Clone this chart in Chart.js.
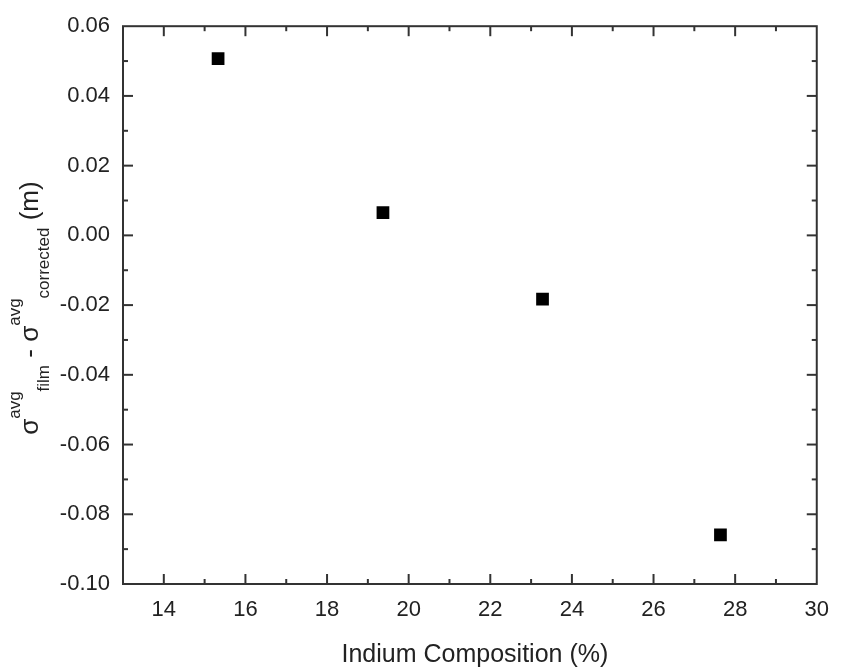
<!DOCTYPE html>
<html>
<head>
<meta charset="utf-8">
<script src="https://cdn.jsdelivr.net/npm/chart.js@4.4.0/dist/chart.umd.min.js"></script>
<style>
  html, body { margin: 0; padding: 0; background: #fff; }
  #wrap { width: 842px; height: 671px; }
</style>
</head>
<body>
<div id="wrap"><canvas id="chart" width="842" height="671"></canvas></div>
<script>
// ── Data ──────────────────────────────────────────────────────────────────────
const indium = [15.33, 19.37, 23.28, 27.64];
const sigmaDiff = [0.0507, 0.0065, -0.0183, -0.0859];
const xTicks = [14, 16, 18, 20, 22, 24, 26, 28, 30];
const yTicks = [-0.10, -0.08, -0.06, -0.04, -0.02, 0.00, 0.02, 0.04, 0.06];

const FONT = "'Liberation Sans', Arial, Helvetica, sans-serif";
const AXIS = "#333";

// ── Axes box, inward ticks and titles ────────────────────────────────────────
const framePlugin = {
  id: "frame",
  afterDraw(chart) {
    const { ctx, chartArea: a, scales: { x, y } } = chart;
    ctx.save();
    ctx.strokeStyle = AXIS;
    ctx.lineWidth = 2;
    ctx.strokeRect(a.left, a.top, a.right - a.left, a.bottom - a.top);

    const tick = (x1, y1, x2, y2) => {
      ctx.beginPath(); ctx.moveTo(x1, y1); ctx.lineTo(x2, y2); ctx.stroke();
    };
    // x ticks (majors + minors halfway)
    const xs = [];
    xTicks.forEach((v, i) => {
      xs.push([v, 10]);
      if (i > 0) xs.push([(v + xTicks[i - 1]) / 2, 5]);
    });
    xs.push([xTicks[0] - 1, 5]);
    xs.forEach(([v, len]) => {
      const px = x.getPixelForValue(v);
      if (px <= a.left + 1 || px >= a.right - 1) return;
      tick(px, a.bottom, px, a.bottom - len);
      tick(px, a.top, px, a.top + len);
    });
    // y ticks
    const ys = [];
    yTicks.forEach((v, i) => {
      ys.push([v, 10]);
      if (i > 0) ys.push([(v + yTicks[i - 1]) / 2, 5]);
    });
    ys.forEach(([v, len]) => {
      const py = y.getPixelForValue(v);
      if (py <= a.top + 1 || py >= a.bottom - 1) return;
      tick(a.left, py, a.left + len, py);
      tick(a.right, py, a.right - len, py);
    });

    // x title
    ctx.fillStyle = "#222";
    ctx.font = "25px " + FONT;
    ctx.textAlign = "center";
    ctx.textBaseline = "alphabetic";
    ctx.fillText("Indium Composition (%)", (a.left + a.right) / 2 + 5, 662);

    // y title with super/subscripts
    const parts = [
      ["σ", 26, 0], ["avg", 17, -18], ["film", 17, 11], [" - ", 26, 0],
      ["σ", 26, 0], ["avg", 17, -18], ["corrected", 17, 11], [" (m)", 26, 0]
    ];
    let total = 0;
    parts.forEach(p => { ctx.font = p[1] + "px " + FONT; p.push(ctx.measureText(p[0]).width); total += p[3]; });
    ctx.translate(38, (a.top + a.bottom) / 2 + 3);
    ctx.rotate(-Math.PI / 2);
    ctx.textAlign = "left";
    let cx = -total / 2;
    parts.forEach(([t, size, dy, w]) => {
      ctx.font = size + "px " + FONT;
      ctx.fillText(t, cx, dy);
      cx += w;
    });
    ctx.restore();
  }
};

// ── Chart ─────────────────────────────────────────────────────────────────────
new Chart(document.getElementById("chart"), {
  type: "scatter",
  data: {
    datasets: [{
      data: indium.map((v, i) => ({ x: v, y: sigmaDiff[i] })),
      pointStyle: "rect",
      pointRadius: 9,
      pointHoverRadius: 9,
      borderWidth: 0,
      backgroundColor: "#000",
      borderColor: "#000"
    }]
  },
  options: {
    responsive: false,
    animation: false,
    events: [],
    layout: { padding: { top: 16, right: 14, left: 0, bottom: 0 } },
    plugins: { legend: { display: false }, tooltip: { enabled: false } },
    scales: {
      x: {
        type: "linear",
        min: 13, max: 30,
        afterBuildTicks: s => { s.ticks = xTicks.map(v => ({ value: v })); },
        afterFit: s => { s.height = 87; },
        grid: { display: false, drawTicks: false },
        border: { display: false },
        ticks: {
          padding: 13,
          color: "#222",
          font: { family: FONT, size: 22 },
          maxRotation: 0,
          autoSkip: false,
          callback: v => String(v)
        }
      },
      y: {
        type: "linear",
        min: -0.10, max: 0.06,
        afterBuildTicks: s => { s.ticks = yTicks.map(v => ({ value: v })); },
        afterFit: s => { s.width = 123; },
        grid: { display: false, drawTicks: false },
        border: { display: false },
        ticks: {
          padding: 13,
          color: "#222",
          font: { family: FONT, size: 22 },
          autoSkip: false,
          callback: v => v.toFixed(2)
        }
      }
    }
  },
  plugins: [framePlugin]
});
</script>
</body>
</html>
